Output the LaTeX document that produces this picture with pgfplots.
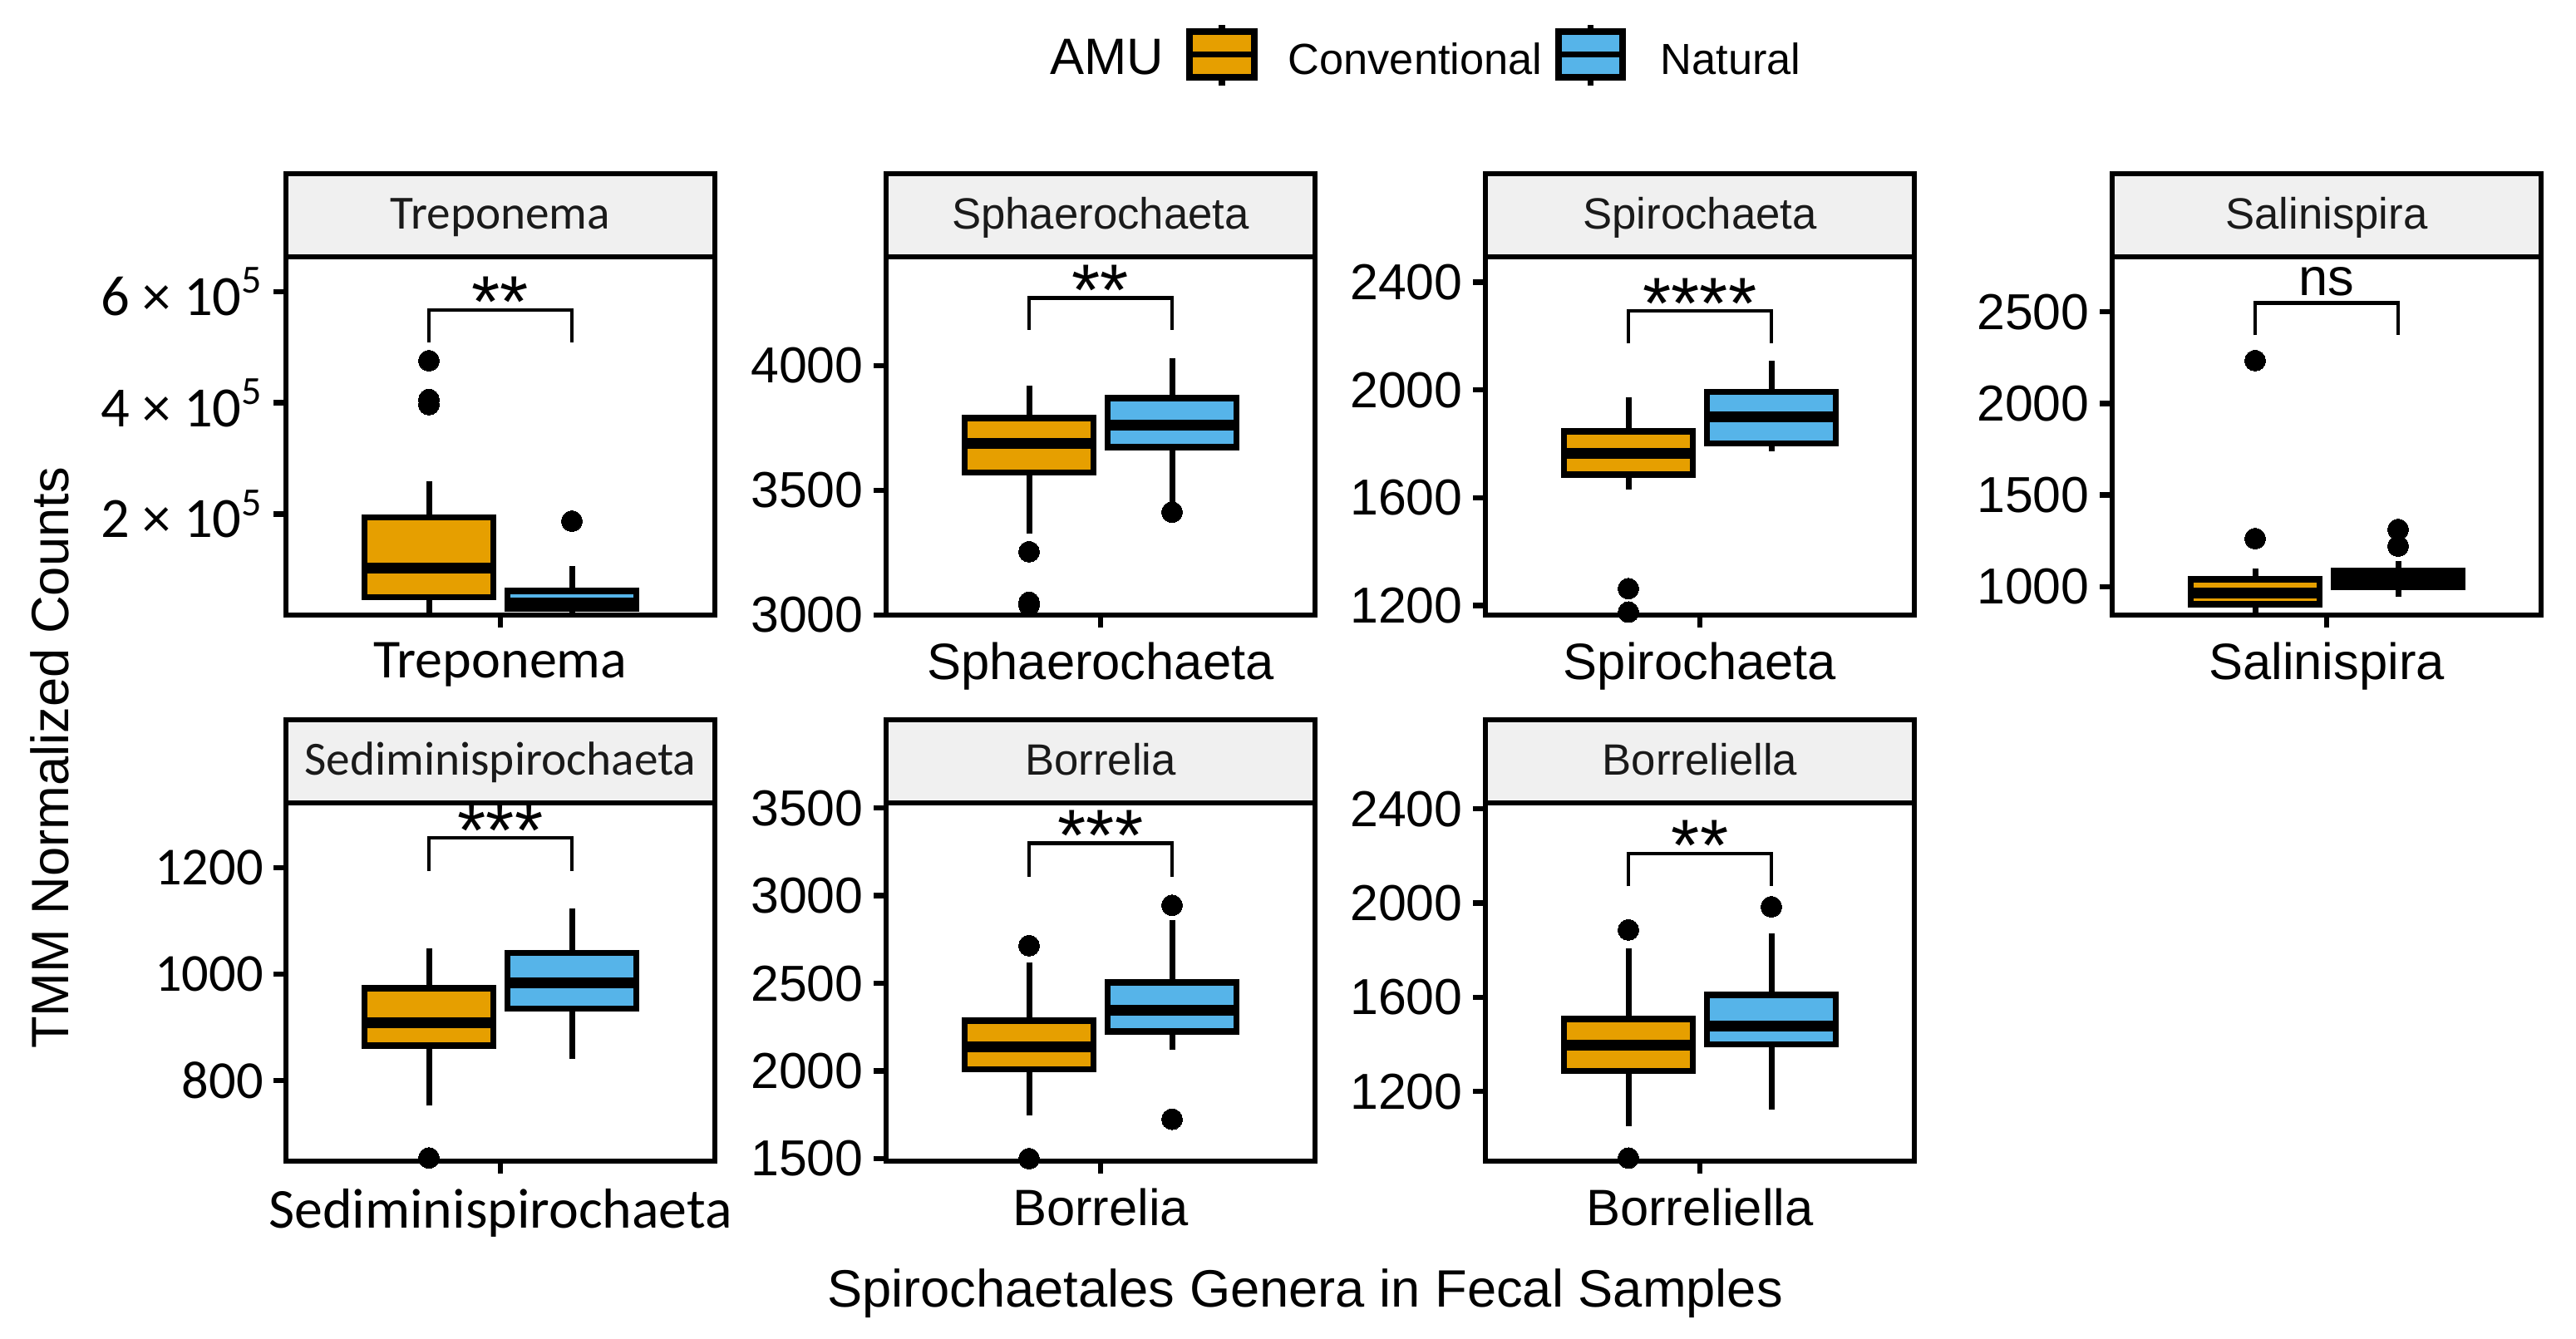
\documentclass[border=0pt]{standalone}
\usepackage{fontspec}
\setmainfont{Liberation Sans}
\newfontfamily\calib{Carlito}
\usepackage{pgfplots}
\pgfplotsset{compat=1.18}
\definecolor{conv}{HTML}{E69F00}
\definecolor{nat}{HTML}{56B4E9}
\definecolor{stripgray}{HTML}{F0F0F0}
\definecolor{stripfg}{HTML}{1A1A1A}

\newcommand{\fTick}{\fontsize{17.3}{20}\selectfont}
\newcommand{\fTickC}{\calib\fontsize{19.5}{22}\selectfont}
\newcommand{\fX}{\fontsize{17.5}{20}\selectfont}
\newcommand{\fXC}{\calib\fontsize{18.8}{22}\selectfont}
\newcommand{\fStrip}{\fontsize{15}{18}\selectfont}
\newcommand{\fStripC}{\calib\fontsize{16.3}{19}\selectfont}
\newcommand{\fStar}{\fontsize{25}{28}\selectfont}
\newcommand{\fNs}{\fontsize{18}{21}\selectfont}
\newcommand{\fTitle}{\fontsize{18}{21}\selectfont}
\newcommand{\fLeg}{\fontsize{14.9}{18}\selectfont}

\pgfplotsset{
  panel/.style={
    width=51.6mm, height=43.1mm, scale only axis, anchor=south west,
    xmin=0.4, xmax=1.6, xtick={1},
    tick align=outside, major tick length=1.5mm, tick pos=left,
    axis line style={line width=0.65mm},
    major tick style={line width=0.65mm, black},
    axis on top, clip=true,
    yticklabel style={font=\fTick, text=black},
    xticklabel style={font=\fX, text=black, yshift=-0.6mm},
    scaled y ticks=false,
  },
}

% box: #1 colour, #2 left, #3 centre, #4 right, #5 lower whisker, #6 Q1, #7 median, #8 Q3, #9 upper whisker
\newcommand{\bx}[9]{%
  \addplot[black, line width=0.7mm] coordinates {(#3,#5) (#3,#6)};
  \addplot[black, line width=0.7mm] coordinates {(#3,#8) (#3,#9)};
  \addplot[draw=black, fill=#1, line width=0.75mm] coordinates {(#2,#6) (#4,#6) (#4,#8) (#2,#8)} -- cycle;
  \addplot[black, line width=1.3mm] coordinates {(#2,#7) (#4,#7)};
}
\newcommand{\bxC}[5]{\bx{conv}{0.62}{0.8}{0.98}{#1}{#2}{#3}{#4}{#5}}
\newcommand{\bxN}[5]{\bx{nat}{1.02}{1.2}{1.38}{#1}{#2}{#3}{#4}{#5}}
\pgfplotsset{outl/.style={only marks, mark=*, mark size=1.25mm, black, mark options={fill=black, draw=black, line width=0pt}}}

\newcommand{\strip}[3]{%
  \draw[line width=0.6mm, fill=stripgray] (#1.north west) rectangle ([yshift=10mm]#1.north east);
  \node[anchor=base, font=#3, text=stripfg, inner sep=0pt] at ([yshift=3.3mm]#1.north) {#2};
}
\newcommand{\bracket}[5]{%
  \draw[line width=0.45mm] (axis cs:0.8,#2) -- (axis cs:0.8,#1) -- (axis cs:1.2,#1) -- (axis cs:1.2,#2);
  \node[anchor=base, font=#4, inner sep=0pt, yshift=#5] at (axis cs:1,#1) {#3};
}

\begin{document}
\begin{tikzpicture}
\path[use as bounding box] (0,0) rectangle (309.9mm,161.1mm);

% ---------- Treponema ----------
\begin{axis}[panel, name=p1, at={(34.4mm,87.1mm)},
  ymin=17900, ymax=663000, ytick={200000,400000,600000},
  yticklabels={2 × 10\textsuperscript{5}, 4 × 10\textsuperscript{5}, 6 × 10\textsuperscript{5}},
  yticklabel style={font=\fTickC}, xticklabels={Treponema}, xticklabel style={font=\fXC}]
\bxC{20000}{50400}{102000}{193500}{258500}
\addplot[outl] coordinates {(0.8,476000) (0.8,406000) (0.8,397000)};
\bxN{21000}{30000}{40000}{61000}{105700}
\addplot[outl] coordinates {(1.2,187000)};
\bracket{567500}{509000}{**}{\fStar}{-2.1mm}
\end{axis}
\strip{p1}{Treponema}{\fStripC}

% ---------- Sphaerochaeta ----------
\begin{axis}[panel, name=p2, at={(106.6mm,87.1mm)},
  ymin=3000, ymax=4437, ytick={3000,3500,4000}, yticklabels={3000,3500,4000},
  xticklabels={Sphaerochaeta}]
\bxC{3326}{3572}{3688}{3790}{3920}
\addplot[outl] coordinates {(0.8,3254) (0.8,3051) (0.8,3040)};
\bxN{3430}{3674}{3761}{3870}{4029}
\addplot[outl] coordinates {(1.2,3413)};
\bracket{4272}{4145}{**}{\fStar}{-2.1mm}
\end{axis}
\strip{p2}{Sphaerochaeta}{\fStrip}

% ---------- Spirochaeta ----------
\begin{axis}[panel, name=p3, at={(178.7mm,87.1mm)},
  ymin=1165, ymax=2494, ytick={1200,1600,2000,2400}, yticklabels={1200,1600,2000,2400},
  xticklabels={Spirochaeta}]
\bxC{1632}{1686}{1766}{1846}{1973}
\addplot[outl] coordinates {(0.8,1263) (0.8,1176)};
\bxN{1773}{1802}{1900}{1993}{2107}
\bracket{2293}{2173}{****}{\fStar}{-2.1mm}
\end{axis}
\strip{p3}{Spirochaeta}{\fStrip}

% ---------- Salinispira ----------
\begin{axis}[panel, name=p4, at={(254.1mm,87.1mm)},
  ymin=846, ymax=2800, ytick={1000,1500,2000,2500}, yticklabels={1000,1500,2000,2500},
  xticklabels={Salinispira}]
\bxC{858}{905}{964}{1041}{1102}
\addplot[outl] coordinates {(0.8,2234) (0.8,1263)};
\bxN{946}{1000}{1043}{1086}{1140}
\addplot[outl] coordinates {(1.2,1313) (1.2,1222)};
\bracket{2549}{2372}{ns}{\fNs}{0.9mm}
\end{axis}
\strip{p4}{Salinispira}{\fStrip}

% ---------- Sediminispirochaeta ----------
\begin{axis}[panel, name=p5, at={(34.4mm,21.4mm)},
  ymin=648, ymax=1322, ytick={800,1000,1200}, yticklabels={800,1000,1200},
  yticklabel style={font=\calib\fontsize{18.3}{21}\selectfont},
  xticklabels={Sediminispirochaeta}, xticklabel style={font=\calib\fontsize{19.3}{22}\selectfont}]
\bxC{752}{865}{909}{973}{1048}
\addplot[outl] coordinates {(0.8,654)};
\bxN{841}{935}{984}{1040}{1124}
\bracket{1256}{1194}{***}{\fStar}{-2.1mm}
\end{axis}
\strip{p5}{Sediminispirochaeta}{\fStripC}

% ---------- Borrelia ----------
\begin{axis}[panel, name=p6, at={(106.6mm,21.4mm)},
  ymin=1486, ymax=3529, ytick={1500,2000,2500,3000,3500}, yticklabels={1500,2000,2500,3000,3500},
  xticklabels={Borrelia}]
\bxC{1747}{2009}{2140}{2287}{2617}
\addplot[outl] coordinates {(0.8,2715) (0.8,1500)};
\bxN{2122}{2225}{2346}{2506}{2861}
\addplot[outl] coordinates {(1.2,2945) (1.2,1725)};
\bracket{3298}{3107}{***}{\fStar}{-2.1mm}
\end{axis}
\strip{p6}{Borrelia}{\fStrip}

% ---------- Borreliella ----------
\begin{axis}[panel, name=p7, at={(178.7mm,21.4mm)},
  ymin=904, ymax=2425, ytick={1200,1600,2000,2400}, yticklabels={1200,1600,2000,2400},
  xticklabels={Borreliella}]
\bxC{1052}{1287}{1396}{1507}{1807}
\addplot[outl] coordinates {(0.8,1886) (0.8,917)};
\bxN{1122}{1399}{1479}{1610}{1872}
\addplot[outl] coordinates {(1.2,1984)};
\bracket{2210}{2071}{**}{\fStar}{-2.1mm}
\end{axis}
\strip{p7}{Borreliella}{\fStrip}

% ---------- axis titles ----------
\node[rotate=90, font=\fTitle] at (6.0mm,69.9mm) {TMM Normalized Counts};
\node[font=\fTitle] at (157.0mm,5.5mm) {Spirochaetales Genera in Fecal Samples};

% ---------- legend ----------
\node[anchor=base east, font=\fontsize{17.5}{20}\selectfont, inner sep=0pt] at (140.1mm,152.1mm) {AMU};
\draw[line width=0.75mm] (147.0mm,150.8mm) -- (147.0mm,158.1mm);
\draw[line width=0.8mm, fill=conv] (143.1mm,151.8mm) rectangle (150.9mm,157.3mm);
\draw[line width=0.7mm] (143.1mm,154.5mm) -- (150.9mm,154.5mm);
\node[anchor=base west, font=\fLeg, inner sep=0pt] at (154.9mm,152.1mm) {Conventional};
\draw[line width=0.75mm] (191.35mm,150.8mm) -- (191.35mm,158.1mm);
\draw[line width=0.8mm, fill=nat] (187.5mm,151.8mm) rectangle (195.2mm,157.3mm);
\draw[line width=0.7mm] (187.5mm,154.5mm) -- (195.2mm,154.5mm);
\node[anchor=base west, font=\fLeg, inner sep=0pt] at (199.7mm,152.1mm) {Natural};
\end{tikzpicture}
\end{document}
